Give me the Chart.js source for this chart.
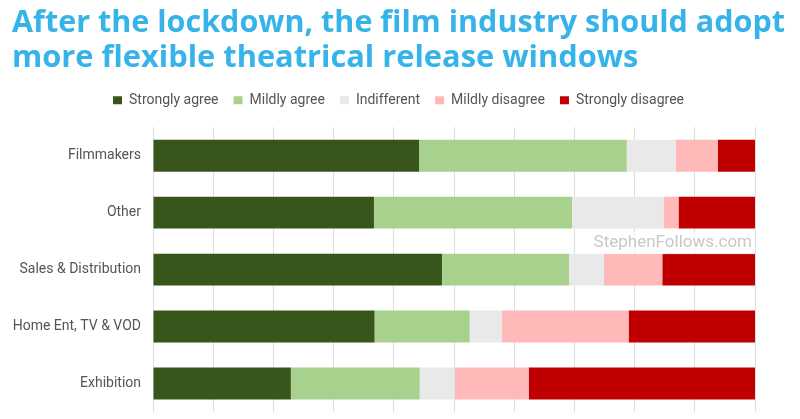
<!DOCTYPE html>
<html>
<head>
<meta charset="utf-8">
<script src="https://cdn.jsdelivr.net/npm/chart.js@4"></script>
<style>
  html, body { margin: 0; padding: 0; background: #ffffff; }
  #wrap { width: 800px; height: 419px; }
</style>
</head>
<body>
<div id="wrap"><canvas id="grafico"></canvas></div>
<script>
const categorias = ['Filmmakers', 'Other', 'Sales & Distribution', 'Home Ent, TV & VOD', 'Exhibition'];

const stronglyAgree = [44.2, 36.7, 48.0, 36.8, 22.9];
const mildlyAgree = [34.5, 32.9, 21.1, 15.8, 21.4];
const indifferent = [8.1, 15.2, 5.8, 5.3, 5.8];
const mildlyDisagree = [7.0, 2.5, 9.7, 21.1, 12.3];
const stronglyDisagree = [6.2, 12.7, 15.4, 21.0, 37.6];

const titulo = ['After the lockdown, the film industry should adopt', 'more flexible theatrical release windows'];

// marca d'agua do site
const marcaDagua = {
    id: 'marcaDagua',
    afterDatasetsDraw(chart) {
        const ctx = chart.ctx;
        const area = chart.chartArea;
        const y = chart.scales.y;
        const meio = (y.getPixelForValue(1) + y.getPixelForValue(2)) / 2 + 2;
        ctx.save();
        ctx.fillStyle = 'rgba(255,255,255,0.6)';
        ctx.fillRect(575, meio - 11, area.right - 575, 22);
        ctx.font = '17px Roboto';
        ctx.fillStyle = '#c8c8c8';
        ctx.textAlign = 'right';
        ctx.textBaseline = 'middle';
        ctx.fillText('StephenFollows.com', area.right - 3, meio);
        ctx.restore();
    }
};

const ctx = document.getElementById('grafico');

new Chart(ctx, {
    type: 'bar',
    data: {
        labels: categorias,
        datasets: [
            { label: 'Strongly agree', data: stronglyAgree, backgroundColor: '#38561c' },
            { label: 'Mildly agree', data: mildlyAgree, backgroundColor: '#a8d18d' },
            { label: 'Indifferent', data: indifferent, backgroundColor: '#e9e9e9' },
            { label: 'Mildly disagree', data: mildlyDisagree, backgroundColor: '#ffb9b9' },
            { label: 'Strongly disagree', data: stronglyDisagree, backgroundColor: '#c00000' }
        ]
    },
    options: {
        indexAxis: 'y',
        responsive: true,
        maintainAspectRatio: false,
        animation: false,
        layout: {
            padding: { left: 12, right: 15, top: 0, bottom: 7 }
        },
        datasets: {
            bar: {
                categoryPercentage: 0.56,
                barPercentage: 1
            }
        },
        plugins: {
            title: {
                display: true,
                text: titulo,
                align: 'start',
                color: '#36b4e9',
                font: { family: 'Open Sans', size: 30.8, weight: 'bold', lineHeight: 1.14 },
                padding: { top: 6, bottom: 2 }
            },
            legend: {
                display: true,
                labels: {
                    boxWidth: 9,
                    boxHeight: 8,
                    color: '#555555',
                    font: { family: 'Roboto', size: 14 },
                    padding: 15
                }
            },
            tooltip: { enabled: false }
        },
        scales: {
            x: {
                stacked: true,
                position: 'top',
                min: 0,
                max: 100,
                afterFit(scale) { scale.height = 10; },
                ticks: { display: false, stepSize: 10 },
                grid: { color: '#dedede', drawTicks: false },
                border: { display: false }
            },
            y: {
                stacked: true,
                afterFit(scale) {
                    scale.width = 141;
                    scale.paddingTop = 0;
                    scale.paddingBottom = 0;
                },
                ticks: { color: '#555555', font: { family: 'Roboto', size: 14 }, padding: 12 },
                grid: { display: false, drawTicks: false },
                border: { display: false }
            },
            // espaco vazio a direita do grafico
            margem: {
                axis: 'y',
                type: 'category',
                position: 'right',
                afterFit(scale) {
                    scale.width = 30;
                    scale.paddingTop = 0;
                    scale.paddingBottom = 0;
                },
                ticks: { display: false },
                grid: { display: false, drawTicks: false },
                border: { display: false }
            }
        }
    },
    plugins: [marcaDagua]
});
</script>
</body>
</html>
